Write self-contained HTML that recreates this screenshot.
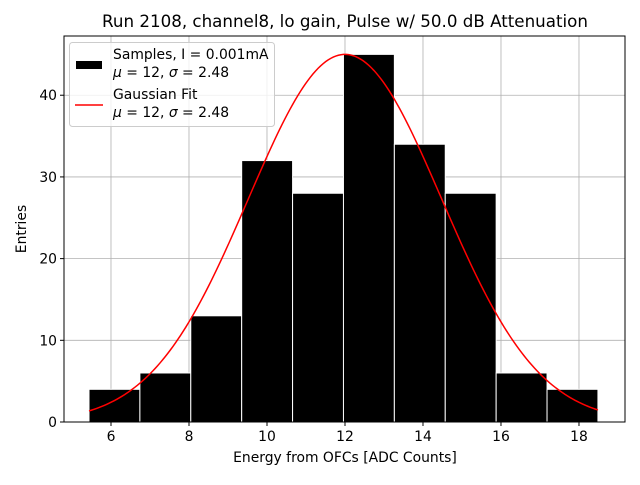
<!DOCTYPE html>
<html><head><meta charset="utf-8"><style>
body{margin:0;background:#fff;}
svg{font-family:"DejaVu Sans","Liberation Sans",sans-serif;}
</style></head><body>
<svg id="chart" width="640" height="480">
<rect width="640" height="480" fill="#fff"/>
<g id="grid"></g><g id="bars"></g><g id="curve"></g>
<rect x="64" y="36" width="561" height="386" fill="none" stroke="#000" stroke-width="1"/>
<g id="ticks"></g>
<text x="345" y="27" font-size="16.7" text-anchor="middle">Run 2108, channel8, lo gain, Pulse w/ 50.0 dB Attenuation</text>
<text x="345" y="462" font-size="13.9" text-anchor="middle">Energy from OFCs [ADC Counts]</text>
<text transform="translate(26,229) rotate(-90)" font-size="13.9" text-anchor="middle">Entries</text>
<g>
<rect x="69.5" y="42.5" width="205" height="84" rx="3" fill="#fff" fill-opacity="0.8" stroke="#ccc"/>
<rect x="76" y="61" width="26" height="8" fill="#000"/>
<text x="113" y="59" font-size="13.9">Samples, I = 0.001mA</text>
<text x="113" y="77" font-size="13.9"><tspan font-style="italic">μ</tspan> = 12, <tspan font-style="italic">σ</tspan> = 2.48</text>
<line x1="75" y1="105" x2="103" y2="105" stroke="red" stroke-width="1.5"/>
<text x="113" y="99" font-size="13.9">Gaussian Fit</text>
<text x="113" y="117" font-size="13.9"><tspan font-style="italic">μ</tspan> = 12, <tspan font-style="italic">σ</tspan> = 2.48</text>
</g>
</svg>
<script>
const counts=[4,6,13,32,28,45,34,28,6,4];
const binStart=5.436;
const binWidth=1.305;
const xTicks=[6,8,10,12,14,16,18];
const yTicks=[0,10,20,30,40];
const fitMu=12;
const fitSigma=2.48;
const fitAmp=45;
const NS="http://www.w3.org/2000/svg";
const X0=64,X1=625,Y0=422,Y1=36,xmin=4.795,xmax=19.18,ymin=0,ymax=47.25;
const sx=v=>X0+(v-xmin)/(xmax-xmin)*(X1-X0);
const sy=v=>Y0-(v-ymin)/(ymax-ymin)*(Y0-Y1);
function mk(t,a,p){const e=document.createElementNS(NS,t);for(const k in a)e.setAttribute(k,a[k]);document.getElementById(p).appendChild(e);return e;}
xTicks.forEach(t=>{
 const g=mk('line',{x1:sx(t),x2:sx(t),y1:Y1,y2:Y0,stroke:'#b0b0b0','stroke-width':0.8},'grid');
 
 
 const tk=mk('line',{x1:sx(t),x2:sx(t),y1:Y0,y2:Y0+4,stroke:'#000'},'ticks');
 
 
 const l=mk('text',{x:sx(t),y:Y0+19,'font-size':13.9,'text-anchor':'middle'},'ticks');l.textContent=t;
 
 
});
yTicks.forEach(t=>{
 const g=mk('line',{x1:X0,x2:X1,y1:sy(t),y2:sy(t),stroke:'#b0b0b0','stroke-width':0.8},'grid');
 
 
 const tk=mk('line',{x1:X0-4,x2:X0,y1:sy(t),y2:sy(t),stroke:'#000'},'ticks');
 
 
 const l=mk('text',{x:X0-7,y:sy(t)+5,'font-size':13.9,'text-anchor':'end'},'ticks');l.textContent=t;
 
 
});
counts.forEach((c,i)=>{
 const a=binStart+i*binWidth,b=a+binWidth;
 const r=mk('rect',{x:sx(a),y:sy(c),width:sx(b)-sx(a),height:sy(0)-sy(c),fill:'#000',stroke:'#fff','stroke-width':1},'bars');
 
 
});
let d='';const xe=binStart+counts.length*binWidth;
for(let i=0;i<=200;i++){const x=binStart+(xe-binStart)*i/200;const y=fitAmp*Math.exp(-0.5*((x-fitMu)/fitSigma)**2);d+=(i?'L':'M')+sx(x).toFixed(2)+','+sy(y).toFixed(2);}
const p=mk('path',{d:d,fill:'none',stroke:'red','stroke-width':1.5},'curve');


</script>
</body></html>
